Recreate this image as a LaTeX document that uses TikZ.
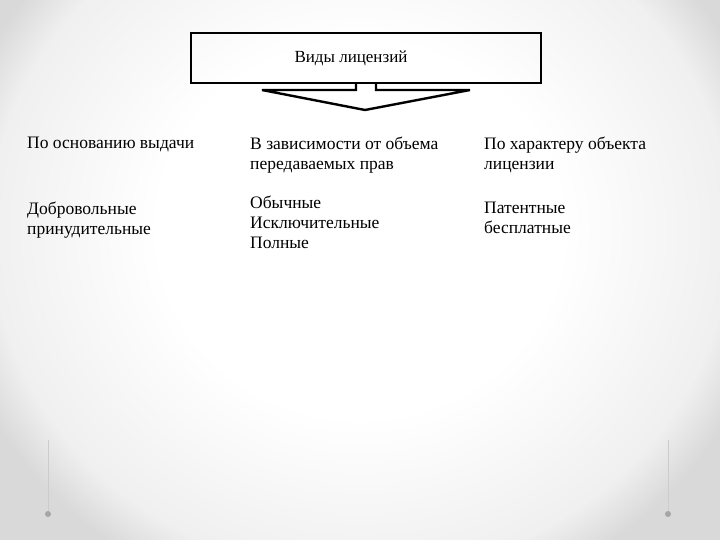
\documentclass[tikz,border=0pt]{standalone}
\usepackage{fontspec}
\setmainfont{Liberation Serif}
\pgfdeclareradialshading{vign}{\pgfpoint{0bp}{0bp}}{color(0bp)=(white); color(12bp)=(white); color(22bp)=(gray!12); color(25bp)=(gray!30); color(50bp)=(gray!30)}
\begin{document}
\begin{tikzpicture}[x=1pt,y=-1pt,
  txt/.style={anchor=north west,align=left,inner sep=0pt,font=\fontsize{17.5}{20}\selectfont},
  deco/.style={draw=gray!40,line width=0.8pt}]
\useasboundingbox (0,0) rectangle (720,540);
\shade[shading=vign] (-60,-160) rectangle (780,620);
\node[draw,line width=1.8pt,minimum width=350pt,minimum height=50pt,inner sep=0pt,anchor=north west] (box) at (190,32) {};
\node[font=\fontsize{17}{20}\selectfont] (title) at (351,58) {Виды лицензий};
\draw[line width=2.4pt,line join=miter] (356,83) -- (356,90) -- (262,90) -- (365,110) -- (470,90) -- (376,90) -- (376,83);
\node[txt] (a1) at (27,137) {По основанию выдачи};
\node[txt] (a2) at (250,137) {В зависимости от объема\\передаваемых прав};
\node[txt] (a3) at (484,137) {По характеру объекта\\лицензии};
\node[txt] (b1) at (27,202) {Добровольные\\принудительные};
\node[txt] (b2) at (250,196) {Обычные\\Исключительные\\Полные};
\node[txt] (b3) at (484,202) {Патентные\\бесплатные};
\coordinate (l1) at (48,440); \coordinate (l2) at (48,514);
\coordinate (r1) at (668,440); \coordinate (r2) at (668,514);
\draw[deco] (l1) -- (l2); \draw[deco] (r1) -- (r2);
\fill[gray!70] (l2) circle (3); \fill[gray!70] (r2) circle (3);
\end{tikzpicture}
\end{document}
